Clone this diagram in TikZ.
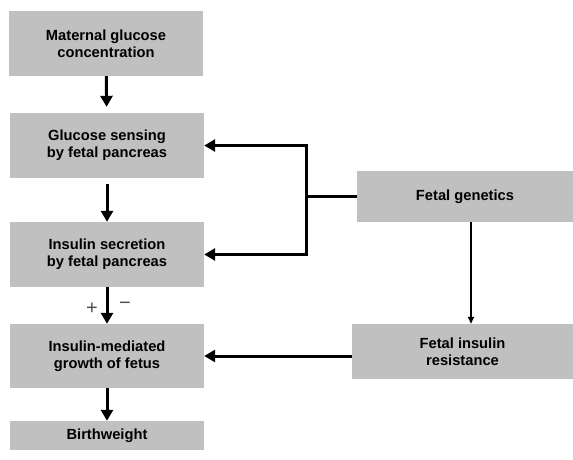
\documentclass[tikz,border=0pt]{standalone}
\usepackage{fontspec}
\setmainfont{Liberation Sans}
\usetikzlibrary{arrows.meta,positioning,calc}
\definecolor{boxgray}{RGB}{192,192,192}

\begin{document}
\begin{tikzpicture}[x=1pt,y=-1pt,font=\fontsize{14.7}{17}\selectfont\bfseries,
  box/.style={fill=boxgray,minimum width=194pt,minimum height=65pt,align=center,inner sep=0pt},
  flow/.style={-{Triangle[length=11pt,width=12pt]},line width=3pt},
  thinarr/.style={-{Triangle[length=7pt,width=6pt]},line width=1.5pt},
  sign/.style={text=black!70,font=\fontsize{20}{20}\selectfont\mdseries}]
\useasboundingbox (0,0) rectangle (573,460);
\node[box](mat) at(106,43.5){Maternal glucose\\concentration};
\node[box](sens) at(107,145.5){Glucose sensing\\by fetal pancreas};
\node[box](secr) at(107,254.5){Insulin secretion\\by fetal pancreas};
\node[box,minimum height=64pt](grow) at(107,356){Insulin-mediated\\growth of fetus};
\node[box,minimum height=29pt](bw) at(107,435.5){Birthweight};
\node[box,minimum width=216pt,minimum height=51pt](gen) at(465,196.5){Fetal genetics};
\node[box,minimum width=221pt,minimum height=55pt](res) at(462.5,351.5){Fetal insulin\\resistance};
\node[sign](plus) at(92,309){+};
\node[sign](minus) at(125,306){−};
\draw[flow,shorten >=6pt](mat)--(sens);
\draw[flow,shorten <=6pt](sens)--(secr);
\draw[flow](secr)--(grow);
\draw[flow](grow)--(bw);
\draw[line width=3pt](gen.west)--++(-50,0)coordinate(j);
\draw[flow](j)|-(sens.east);
\draw[flow](j)|-(secr.east);
\draw[flow](res.west|-grow.east)--(grow.east);
\draw[thinarr]([xshift=6pt]gen.south)--([xshift=8.5pt]res.north);
\end{tikzpicture}
\end{document}
